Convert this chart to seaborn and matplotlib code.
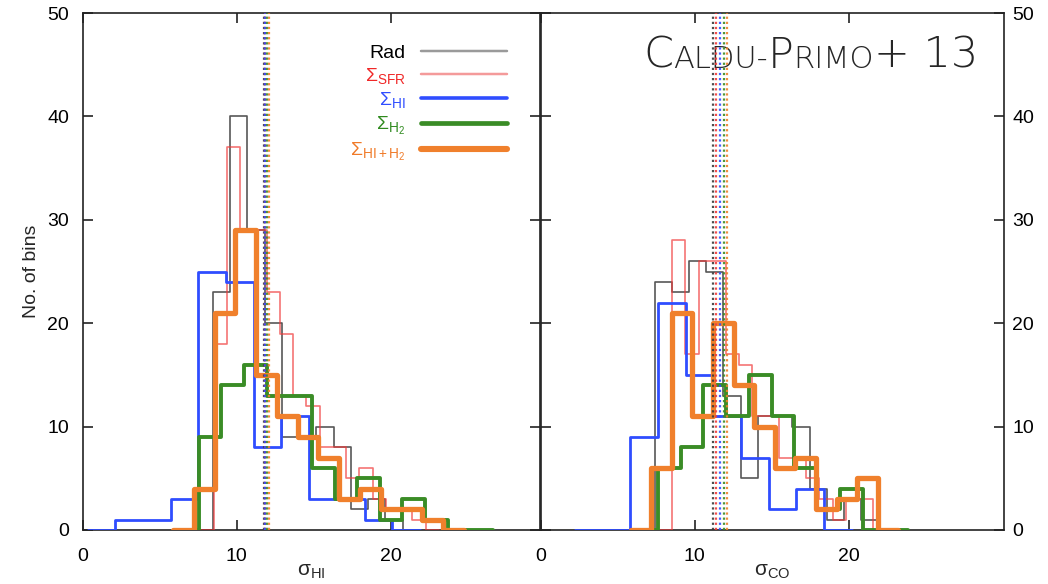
import numpy as np
import pandas as pd
import matplotlib
matplotlib.use("Agg")
import matplotlib.pyplot as plt
import seaborn as sns
from matplotlib.lines import Line2D

# ---- left panel: sigma_HI (first bin edge, bin width, counts per bin)
rad_hi_start, rad_hi_width = 8.45, 1.12
rad_hi_counts = [23, 40, 29, 20, 9, 9, 10, 8, 2, 3, 1]
sfr_hi_start, sfr_hi_width = 8.5, 0.86
sfr_hi_counts = [18, 37, 29, 29, 23, 19, 13, 12, 8, 8, 5, 6, 3, 2, 2, 1]
hi_hi_start, hi_hi_width = 2.1, 1.8
hi_hi_counts = [1, 1, 3, 25, 24, 8, 11, 3, 3, 1]
h2_hi_start, h2_hi_width = 7.53, 1.47
h2_hi_counts = [9, 14, 16, 13, 13, 6, 3, 5, 1, 3, 1, 0]
tot_hi_start, tot_hi_width = 7.2, 1.35
tot_hi_counts = [4, 21, 29, 15, 11, 9, 7, 3, 4, 2, 2, 1]
median_hi = [11.75, 11.85, 11.8, 11.95, 12.1]   # rad, sfr, hi, h2, tot

# ---- right panel: sigma_CO
rad_co_start, rad_co_width = 7.38, 1.12
rad_co_counts = [24, 23, 26, 25, 13, 5, 11, 11, 10, 4, 1, 3, 1]
sfr_co_start, sfr_co_width = 8.52, 0.87
sfr_co_counts = [28, 17, 26, 26, 17, 16, 11, 11, 7, 7, 5, 3, 1, 3, 3]
hi_co_start, hi_co_width = 4.0, 1.8
hi_co_counts = [0, 9, 22, 15, 11, 7, 2, 4]
h2_co_start, h2_co_width = 7.6, 1.48
h2_co_counts = [6, 8, 14, 11, 15, 11, 6, 2, 4, 0]
tot_co_start, tot_co_width = 7.16, 1.34
tot_co_counts = [6, 21, 11, 20, 14, 10, 6, 7, 2, 3, 5]
median_co = [11.2, 11.35, 11.65, 11.9, 12.1]

labels = ["Rad", "Σ$_{\\mathrm{SFR}}$", "Σ$_{\\mathrm{HI}}$", "Σ$_{\\mathrm{H_2}}$",
          "Σ$_{\\mathrm{HI+H_2}}$"]
line_colors = ["#3a3a3a", "#f03a3a", "#2f4dff", "#3a8c26", "#f0802c"]
text_colors = ["#000000", "#f02828", "#2f4dff", "#2f8a1e", "#f07a28"]
key_colors = ["#9a9a9a", "#f49a9a", "#2f4dff", "#3a8c26", "#f0802c"]
alphas = [0.85, 0.7, 1.0, 1.0, 1.0]
widths = [1.2, 1.2, 2.0, 2.8, 3.8]

sns.set_style("ticks")
plt.rcParams['font.family'] = ['Liberation Sans', 'DejaVu Sans']
plt.rcParams['mathtext.fontset'] = 'custom'
plt.rcParams['mathtext.rm'] = 'Liberation Sans'
plt.rcParams['mathtext.it'] = 'Liberation Sans:italic'
plt.rcParams['mathtext.bf'] = 'Liberation Sans:bold'


def draw_hist(ax, start, width, counts, color, lw, alpha, z):
    n = len(counts)
    edges = start + width * np.arange(-1, n + 2)
    df = pd.DataFrame({
        "v": edges[:-1] + width / 2,
        "w": [0] + list(counts) + [0],
    })
    sns.histplot(data=df, x="v", weights="w", bins=list(edges), element="step",
                 fill=False, color=color, linewidth=lw, alpha=alpha, ax=ax, zorder=z)


fig = plt.figure(figsize=(10.48, 5.84), dpi=100)
ax1 = fig.add_axes([83 / 1048, 54 / 584, 457 / 1048, 517 / 584])
ax2 = fig.add_axes([541 / 1048, 54 / 584, 463 / 1048, 517 / 584])

left_sets = [(rad_hi_start, rad_hi_width, rad_hi_counts),
             (sfr_hi_start, sfr_hi_width, sfr_hi_counts),
             (hi_hi_start, hi_hi_width, hi_hi_counts),
             (h2_hi_start, h2_hi_width, h2_hi_counts),
             (tot_hi_start, tot_hi_width, tot_hi_counts)]
right_sets = [(rad_co_start, rad_co_width, rad_co_counts),
              (sfr_co_start, sfr_co_width, sfr_co_counts),
              (hi_co_start, hi_co_width, hi_co_counts),
              (h2_co_start, h2_co_width, h2_co_counts),
              (tot_co_start, tot_co_width, tot_co_counts)]

for ax, sets, meds in [(ax1, left_sets, median_hi), (ax2, right_sets, median_co)]:
    for i, (st, w, c) in enumerate(sets):
        draw_hist(ax, st, w, c, line_colors[i], widths[i], alphas[i], 2 + i)
    for i, m in enumerate(meds):
        ax.axvline(m, color=line_colors[i], lw=1.6, linestyle=(0, (1, 1.3)),
                   alpha=0.9, zorder=8)
    ax.set_ylim(0, 50)
    ax.set_yticks([0, 10, 20, 30, 40, 50])
    ax.set_xticks([0, 10, 20])
    ax.tick_params(direction='in', length=7, width=1.2, top=True, bottom=True,
                   left=True, right=True, labelsize=14, colors='#222222',
                   labelcolor='black')
    for sp in ax.spines.values():
        sp.set_linewidth(1.2)
        sp.set_color('#222222')
    ax.set_ylabel("")

ax1.set_xlim(0, 29.7)
ax2.set_xlim(0, 30.1)
ax1.tick_params(axis='x', pad=13)
ax2.tick_params(axis='x', pad=13)
ax1.tick_params(axis='y', pad=10)
ax2.tick_params(axis='y', labelleft=False, labelright=True, pad=6)

ax1.set_xlabel("σ$_{\\mathrm{HI}}$", fontsize=15, labelpad=-2)
ax2.set_xlabel("σ$_{\\mathrm{CO}}$", fontsize=15, labelpad=-2)
ax1.set_ylabel("No. of bins", fontsize=14, labelpad=5)

handles = [Line2D([], [], color=key_colors[i], lw=widths[i] + 0.6) for i in range(5)]
ax1.legend(handles, labels, loc='upper right', bbox_to_anchor=(0.927, 0.94),
           frameon=False, markerfirst=False, fontsize=14, handlelength=4.4,
           handletextpad=0.8, labelspacing=0.22, borderaxespad=0, borderpad=0,
           labelcolor=text_colors)

# small-caps style label
pieces = [("C", 31), ("ALDU-", 22), ("P", 31), ("RIMO", 22), ("+ 13", 31)]
base_y = 1 - 68 / 584
prev = fig.text(643 / 1048, base_y, pieces[0][0], fontsize=pieces[0][1],
                va='baseline', ha='left', family='DejaVu Sans', weight='light')
for s, size in pieces[1:]:
    prev = ax2.annotate(s, xy=(1, base_y), xycoords=(prev, 'figure fraction'),
                        va='baseline', ha='left', fontsize=size,
                        family='DejaVu Sans', weight='light')

fig.savefig("out.png", dpi=100)
